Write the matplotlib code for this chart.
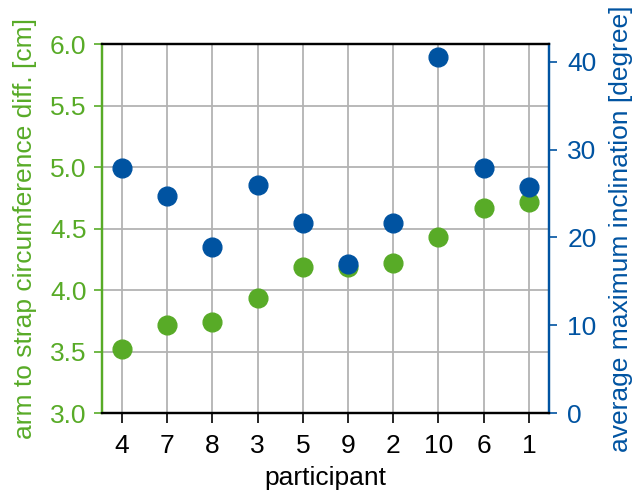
import matplotlib
matplotlib.use("Agg")
import matplotlib.pyplot as plt

participants = ["4", "7", "8", "3", "5", "9", "2", "10", "6", "1"]
circ_diff = [3.52, 3.72, 3.74, 3.94, 4.19, 4.19, 4.22, 4.43, 4.67, 4.72]
inclination = [27.9, 24.7, 18.9, 26.0, 21.6, 17.0, 21.7, 40.5, 27.9, 25.7]

green = "#58AB27"
blue = "#0053A1"

plt.rcParams['font.family'] = ['Liberation Sans', 'DejaVu Sans']
fs = 19
plt.rcParams['font.size'] = fs

fig = plt.figure(figsize=(6.32, 4.96), dpi=100)
ax = fig.add_axes([0.161, 0.167, 0.708, 0.744])
x = list(range(len(participants)))

ax.plot(x, circ_diff, 'o', color=green, markersize=13.5, zorder=3, clip_on=False)
ax.set_ylim(3.0, 6.0)
ax.set_xlim(-0.45, 9.45)
ax.set_yticks([3.0, 3.5, 4.0, 4.5, 5.0, 5.5, 6.0])
ax.set_yticklabels(["3.0", "3.5", "4.0", "4.5", "5.0", "5.5", "6.0"])
ax.set_xticks(x)
ax.set_xticklabels(participants)
ax.grid(True, color="#b3b3b3", linewidth=1.3)
ax.set_axisbelow(True)
ax.set_xlabel("participant", color="black", labelpad=6, fontsize=fs)
ax.set_ylabel("arm to strap circumference diff. [cm]", color=green, labelpad=9, fontsize=fs)
ax.tick_params(axis='y', colors=green, direction='out', length=6, width=1.2, labelsize=fs, pad=5)
ax.tick_params(axis='x', colors='black', direction='out', length=7, width=1.2, labelsize=fs, pad=8)

ax2 = ax.twinx()
ax2.plot(x, inclination, 'o', color=blue, markersize=13.5, zorder=3, clip_on=False)
ax2.set_ylim(0, 42)
ax2.set_yticks([0, 10, 20, 30, 40])
ax2.set_ylabel("average maximum inclination [degree]", color=blue, labelpad=9, fontsize=fs)
ax2.tick_params(axis='y', colors=blue, direction='out', length=6, width=1.2, labelsize=fs, pad=7)

for a in (ax, ax2):
    for s in ('top', 'bottom'):
        a.spines[s].set_color('black')
        a.spines[s].set_linewidth(1.6)
    a.spines['left'].set_color(green)
    a.spines['right'].set_color(blue)
    a.spines['left'].set_linewidth(1.6)
    a.spines['right'].set_linewidth(1.6)

fig.savefig("out.png", dpi=100)
